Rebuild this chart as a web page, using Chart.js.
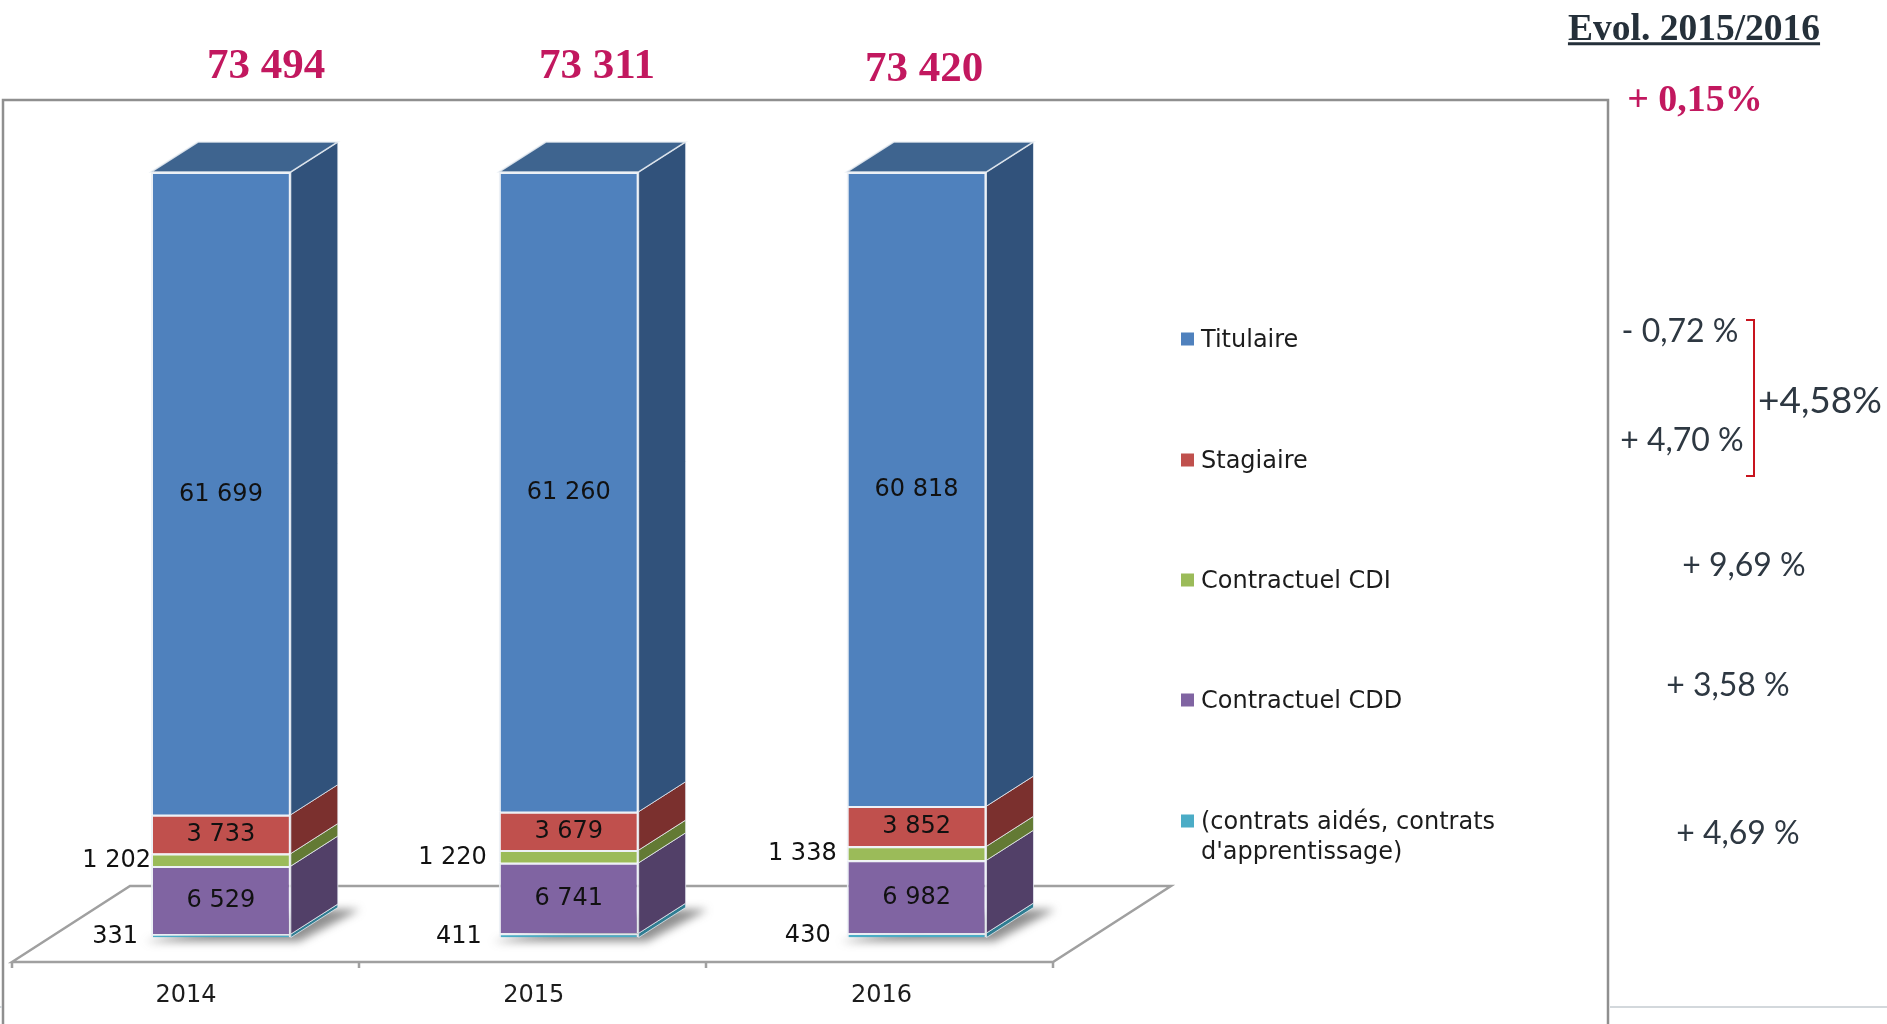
<!DOCTYPE html>
<html lang="fr">
<head>
<meta charset="utf-8">
<title>Effectifs 2014-2016</title>
<script src="https://cdn.jsdelivr.net/npm/chart.js@4"></script>
<style>
html,body{margin:0;padding:0;background:#fff;overflow:hidden}
#wrap{position:relative;width:1887px;height:1024px}
canvas{position:absolute;left:0;top:0}
.t{position:absolute;transform:translate(-50%,-50%);white-space:nowrap;line-height:1}
.serif{font-family:"Liberation Serif",serif;font-weight:700}
.total{color:#c2185f;font-size:43px}
.evol{color:#2e3842;font-family:Lato,sans-serif;font-size:32px}
.leg{position:absolute;left:1201px;font:24px/30px "DejaVu Sans",sans-serif;color:#1c1c1c;transform:translateY(-15px);white-space:nowrap}
.mark{position:absolute;left:1181px;width:13px;height:13px;transform:translateY(-50%)}
#bracket{position:absolute;left:1746px;top:319px;width:9px;height:158px;border:2px solid #c8141e;border-left:none;box-sizing:border-box}
</style>
</head>
<body>
<div id="wrap">
<canvas id="c" width="1887" height="1024"></canvas>
<div class="t serif total" style="left:266px;top:63px">73 494</div>
<div class="t serif total" style="left:597px;top:63px">73 311</div>
<div class="t serif total" style="left:924px;top:66px">73 420</div>
<div class="t serif" style="left:1694px;top:28px;font-size:37.5px;color:#25303a;text-decoration:underline">Evol. 2015/2016</div>
<div class="t serif" style="left:1695px;top:98px;font-size:38px;color:#c2185f">+ 0,15%</div>
<div class="t evol" style="left:1680px;top:330px">- 0,72 %</div>
<div class="t evol" style="left:1682px;top:439px">+ 4,70 %</div>
<div class="t evol" style="left:1820px;top:398px;font-size:37px">+4,58%</div>
<div class="t evol" style="left:1744px;top:564px">+ 9,69 %</div>
<div class="t evol" style="left:1728px;top:684px">+ 3,58 %</div>
<div class="t evol" style="left:1738px;top:832px">+ 4,69 %</div>
<div id="bracket"></div>
<div id="legend"></div>
</div>
<script>
const categories = ['2014', '2015', '2016'];
const titulaire = [61699, 61260, 60818];
const stagiaire = [3733, 3679, 3852];
const contractuelCDI = [1202, 1220, 1338];
const contractuelCDD = [6529, 6741, 6982];
const contratsAides = [331, 411, 430];

const seriesList = [
  { label: '(contrats aidés, contrats\nd\'apprentissage)', values: contratsAides, front: '#4bacc6', side: '#2f7d92', outside: [13, 17, 16] },
  { label: 'Contractuel CDD', values: contractuelCDD, front: '#8064a2', side: '#524068' },
  { label: 'Contractuel CDI', values: contractuelCDI, front: '#9bbb59', side: '#637a34', outside: [0, 12, 10] },
  { label: 'Stagiaire', values: stagiaire, front: '#c0504d', side: '#7b302e' },
  { label: 'Titulaire', values: titulaire, front: '#4f81bd', side: '#31527b', top: '#3e648f' }
];
const totals = categories.map((_, i) => seriesList.reduce((s, d) => s + d.values[i], 0));
const fmt = v => String(v).replace(/\B(?=(\d{3})+$)/g, ' ');

const DEPTH_X = 47, DEPTH_Y = 30, AXIS_SHIFT = 35, AXIS_DROP = 24.5, FLOOR_TRIM = 2.5;
const LABEL_FONT = '24px "DejaVu Sans", sans-serif';

function poly(ctx, pts, fill, stroke, lw) {
  ctx.beginPath();
  pts.forEach((p, i) => i ? ctx.lineTo(p[0], p[1]) : ctx.moveTo(p[0], p[1]));
  ctx.closePath();
  if (fill) { ctx.fillStyle = fill; ctx.fill(); }
  if (stroke) { ctx.strokeStyle = stroke; ctx.lineWidth = lw; ctx.stroke(); }
}

const scene3d = {
  id: 'scene3d',
  beforeDatasetsDraw(chart) {
    const { ctx, chartArea: a } = chart;
    ctx.save();
    // frame
    ctx.strokeStyle = '#8f8f8f'; ctx.lineWidth = 2.5;
    ctx.beginPath(); ctx.moveTo(3, 1024); ctx.lineTo(3, 100); ctx.lineTo(1608, 100); ctx.lineTo(1608, 1024); ctx.stroke();
    ctx.strokeStyle = '#d3d8dc'; ctx.lineWidth = 2;
    ctx.beginPath(); ctx.moveTo(1610, 1007); ctx.lineTo(1887, 1007); ctx.moveTo(0, 1007); ctx.lineTo(2, 1007); ctx.stroke();
    // floor
    const fl = a.left - AXIS_SHIFT, fr = a.right - AXIS_SHIFT - FLOOR_TRIM, fy = a.bottom + AXIS_DROP;
    const bx = 118, by = 76;
    ctx.strokeStyle = '#a0a0a0'; ctx.lineWidth = 2.5;
    ctx.beginPath();
    ctx.moveTo(fl, fy); ctx.lineTo(fl + bx, fy - by); ctx.lineTo(fr + bx, fy - by); ctx.lineTo(fr, fy); ctx.closePath();
    ctx.stroke();
    const n = categories.length;
    ctx.beginPath();
    for (let i = 0; i <= n; i++) {
      const x = fl + (fr - fl) * i / n;
      ctx.moveTo(x, fy); ctx.lineTo(x, fy + 6);
    }
    ctx.stroke();
    // shadows
    const meta = chart.getDatasetMeta(0);
    meta.data.forEach(el => {
      const l = el.x - el.width / 2, r = el.x + el.width / 2, b = el.base;
      ctx.save();
      ctx.filter = 'blur(4px)';
      poly(ctx, [[l - 6, b + 4], [r + 8, b + 4], [r + DEPTH_X + 22, b - DEPTH_Y + 2], [r + 24, b - DEPTH_Y + 2]], 'rgba(70,70,70,.6)');
      ctx.restore();
    });
    ctx.restore();
  },
  afterDatasetsDraw(chart) {
    const { ctx } = chart;
    ctx.save();
    seriesList.forEach((s, di) => {
      chart.getDatasetMeta(di).data.forEach(el => {
        const r = el.x + el.width / 2, l = el.x - el.width / 2;
        poly(ctx, [[r, el.y], [r + DEPTH_X, el.y - DEPTH_Y], [r + DEPTH_X, el.base - DEPTH_Y], [r, el.base]], s.side, 'rgba(235,240,245,.75)', 1);
        if (s.top) {
          poly(ctx, [[l, el.y], [l + DEPTH_X, el.y - DEPTH_Y], [r + DEPTH_X, el.y - DEPTH_Y], [r, el.y]], s.top, 'rgba(235,240,245,.85)', 1.5);
        }
      });
    });
    ctx.font = LABEL_FONT;
    ctx.fillStyle = '#111';
    ctx.textBaseline = 'middle';
    seriesList.forEach((s, di) => {
      chart.getDatasetMeta(di).data.forEach((el, i) => {
        const txt = fmt(s.values[i]);
        const cy = (el.y + el.base) / 2;
        if (s.outside) {
          ctx.textAlign = 'right';
          ctx.fillText(txt, el.x - el.width / 2 - s.outside[i], cy + 1);
        } else {
          ctx.textAlign = 'center';
          ctx.fillText(txt, el.x, cy + 1);
        }
      });
    });
    ctx.restore();
  }
};

new Chart(document.getElementById('c'), {
  type: 'bar',
  data: {
    labels: categories,
    datasets: seriesList.map(s => ({
      label: s.label,
      data: s.values.map((v, i) => v / totals[i] * 100),
      backgroundColor: s.front,
      borderColor: 'rgba(235,240,245,.9)',
      borderWidth: 2,
      barPercentage: 1,
      categoryPercentage: 0.402
    }))
  },
  options: {
    responsive: false,
    animation: false,
    layout: { padding: { left: 47, top: 172, right: 796.5, bottom: 0 } },
    plugins: { legend: { display: false }, tooltip: { enabled: false }, title: { display: false } },
    scales: {
      x: {
        stacked: true,
        grid: { display: false },
        border: { display: false },
        ticks: { labelOffset: -AXIS_SHIFT, padding: 36, color: '#1c1c1c', font: { family: '"DejaVu Sans", sans-serif', size: 24 }, maxRotation: 0 },
        afterFit(s) { s.height = 86.5; }
      },
      y: { stacked: true, display: false, min: 0, max: 100 }
    }
  },
  plugins: [scene3d]
});

const legendBox = document.getElementById('legend');
const legendY = [339, 460, 580, 700, 821];
[...seriesList].reverse().forEach((s, i) => {
  const m = document.createElement('div');
  m.className = 'mark';
  m.style.top = legendY[i] + 'px';
  m.style.background = s.front;
  legendBox.appendChild(m);
  const t = document.createElement('div');
  t.className = 'leg';
  t.style.top = legendY[i] + 'px';
  t.innerHTML = s.label.replace('\n', '<br>');
  legendBox.appendChild(t);
});
</script>
</body>
</html>
